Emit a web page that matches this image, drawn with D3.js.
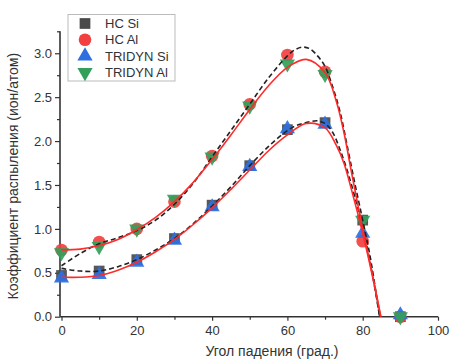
<!DOCTYPE html>
<html><head><meta charset="utf-8">
<script src="https://cdn.jsdelivr.net/npm/d3@7"></script>
<style>body{margin:0;background:#fff}svg{display:block}text{font-family:"Liberation Sans",Arial,sans-serif}</style>
</head><body><svg id="c" width="451" height="363"></svg>
<script>
const angles = [0,10,20,30,40,50,60,70,80,90];
const hcSi = [0.47,0.52,0.65,0.89,1.27,1.72,2.13,2.21,1.10,0.00];
const hcAl = [0.76,0.85,1.00,1.31,1.83,2.42,2.98,2.79,0.86,0.00];
const triSi = [0.44,0.48,0.62,0.87,1.25,1.71,2.14,2.19,0.95,0.02];
const triAl = [0.73,0.80,1.00,1.34,1.82,2.40,2.88,2.76,1.10,0.00];

const fitX = [0,5,10,15,20,25,30,35,40,45,50,55,60,65,70,73,75,77,80,82.5,84.8];
const fitAl = [0.76,0.77,0.81,0.88,0.99,1.13,1.31,1.53,1.79,2.07,2.36,2.63,2.84,2.93,2.78,2.45,2.10,1.65,1.00,0.50,0];
const fitSi = [0.45,0.45,0.47,0.53,0.62,0.74,0.88,1.05,1.24,1.45,1.67,1.89,2.07,2.20,2.15,1.95,1.75,1.45,0.95,0.48,0];

const dashX = [0,5,10,15,20,25,30,35,40,45,50,55,60,62,64,66,68,70,72,74,76,78,80,82,84.5];
const dashAl = [0.58,0.72,0.83,0.90,0.98,1.10,1.28,1.52,1.82,2.12,2.42,2.72,2.97,3.04,3.07,3.05,2.97,2.85,2.62,2.33,1.92,1.50,1.10,0.68,0];
const dashSi = [0.55,0.52,0.52,0.57,0.65,0.76,0.89,1.06,1.26,1.48,1.72,1.94,2.12,2.17,2.20,2.22,2.23,2.20,2.10,1.90,1.65,1.35,1.02,0.62,0];

const xTicks = [0,20,40,60,80,100];
const xMinor = [10,30,50,70,90];
const yTicks = [0.0,0.5,1.0,1.5,2.0,2.5,3.0];
const yMinor = [0.25,0.75,1.25,1.75,2.25,2.75,3.25];
const legendLabels = ["HC Si","HC Al","TRIDYN Si","TRIDYN Al"];

const svg = d3.select("#c");
const x = d3.scaleLinear().domain([0,100]).range([61.5,438]);
const y = d3.scaleLinear().domain([0,3.25]).range([316.7,31.3]);
const axisCol = "#333";
const x0 = x(0)-1.5;

// minor ticks (no domain)
const mx = svg.append("g").attr("transform",`translate(0,${y(0)})`)
  .call(d3.axisBottom(x).tickValues(xMinor).tickFormat("").tickSize(3));
const my = svg.append("g").attr("transform",`translate(${x0},0)`)
  .call(d3.axisLeft(y).tickValues(yMinor).tickFormat("").tickSize(3));
mx.select(".domain").remove(); my.select(".domain").remove();

// major axes
const gx = svg.append("g").attr("transform",`translate(0,${y(0)})`)
  .call(d3.axisBottom(x).tickValues(xTicks).tickFormat(d3.format("d")).tickSize(4).tickPadding(5));
const gy = svg.append("g").attr("transform",`translate(${x0},0)`)
  .call(d3.axisLeft(y).tickValues(yTicks).tickFormat(d3.format(".1f")).tickSize(5).tickPadding(3));
gx.select(".domain").attr("d",`M${x0},0H${x(100)}`);
gy.select(".domain").attr("d",`M0,${y(3.25)}V${y(0)}`);
svg.selectAll(".domain").attr("stroke",axisCol).attr("stroke-width",1.6);
svg.selectAll(".tick line").attr("stroke",axisCol).attr("stroke-width",1.2);
svg.selectAll(".tick text").attr("font-size",13).attr("fill","#333");

// markers
const sym = (type,size)=>d3.symbol().type(type).size(size)();
function drawPts(vals,type,size,color,rot){
  svg.append("g").selectAll("path").data(angles).join("path")
    .attr("d",sym(type,size))
    .attr("transform",(d,i)=>`translate(${x(d)},${y(vals[i])})${rot?" rotate(180)":""}`)
    .attr("fill",color).attr("opacity",0.92);
}
drawPts(hcSi,d3.symbolSquare,115,"#4a4a4a");
drawPts(hcAl,d3.symbolCircle,125,"#f24040");
drawPts(triSi,d3.symbolTriangle,100,"#2d6fe0");
drawPts(triAl,d3.symbolTriangle,100,"#33a05a",true);

// lines
const line = (xs)=>d3.line().x((d,i)=>x(xs[i])).y(d=>y(d)).curve(d3.curveCatmullRom.alpha(0.5));
[dashAl,dashSi].forEach(v=>svg.append("path").attr("d",line(dashX)(v)).attr("fill","none")
  .attr("stroke","#222").attr("stroke-width",1.6).attr("stroke-dasharray","5,3"));
[fitAl,fitSi].forEach(v=>svg.append("path").attr("d",line(fitX)(v)).attr("fill","none")
  .attr("stroke","#ff2a2a").attr("stroke-width",1.6));

// legend
const lg = svg.append("g");
lg.append("rect").attr("x",68).attr("y",14.5).attr("width",107).attr("height",66.5)
  .attr("fill","#fff").attr("stroke","#bbb").attr("stroke-width",1);
const lt=[[d3.symbolSquare,115,"#4a4a4a",false],[d3.symbolCircle,125,"#f24040",false],[d3.symbolTriangle,100,"#2d6fe0",false],[d3.symbolTriangle,100,"#33a05a",true]];
legendLabels.forEach((t,i)=>{
  const cy = 23.5+i*16.3;
  lg.append("path").attr("d",sym(lt[i][0],lt[i][1])).attr("fill",lt[i][2])
    .attr("transform",`translate(85,${cy})${lt[i][3]?" rotate(180)":""}`);
  lg.append("text").attr("x",105).attr("y",cy+4.5).attr("font-size",13).attr("fill","#333").text(t);
});

// axis titles
svg.append("text").attr("x",272).attr("y",356).attr("text-anchor","middle").attr("font-size",14).attr("fill","#333")
  .text("Угол падения (град.)");
svg.append("text").attr("transform",`translate(18,${y(1.6)}) rotate(-90)`).attr("text-anchor","middle")
  .attr("font-size",14).attr("fill","#333").text("Коэффициент распыления (ион/атом)");
</script></body></html>
